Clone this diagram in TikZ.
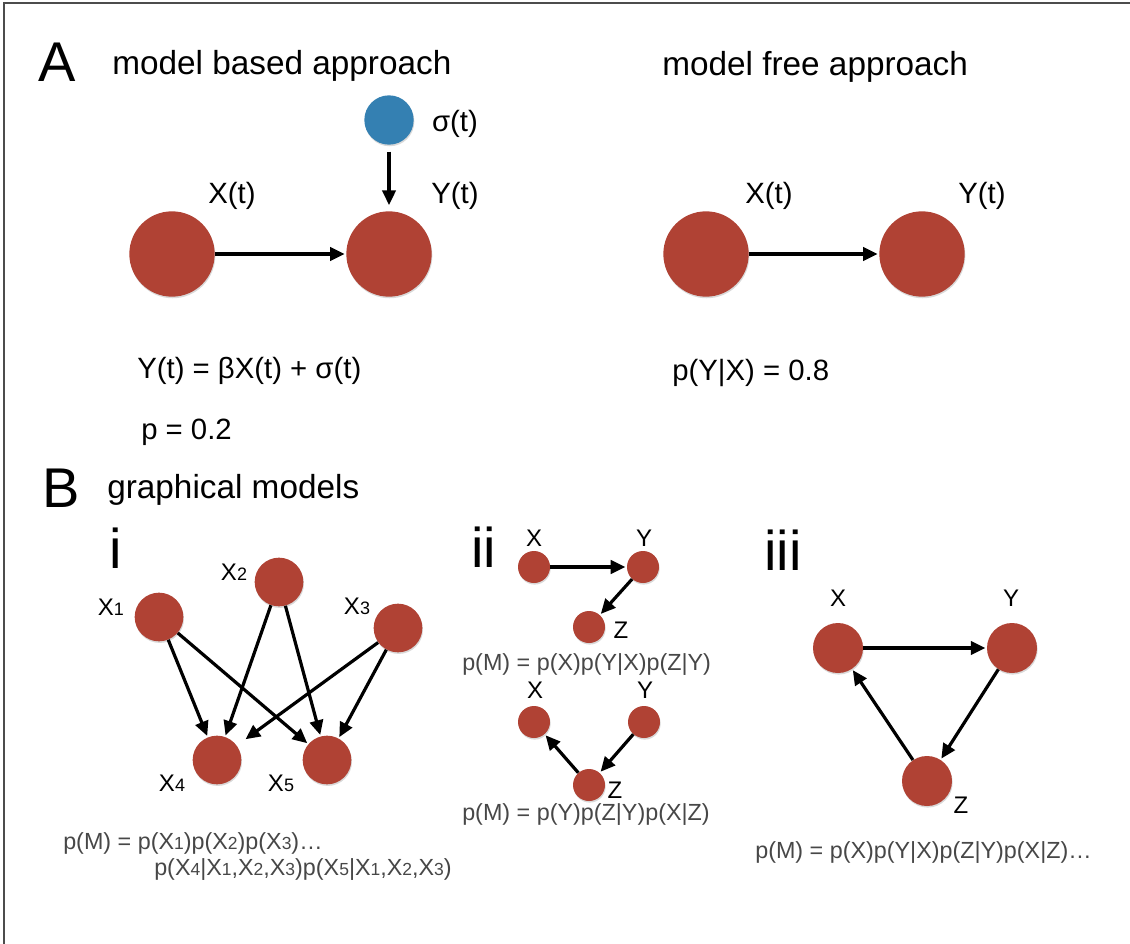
\documentclass[tikz,border=0pt]{standalone}
\usepackage{fontspec}
\setmainfont{Liberation Sans}
\usepackage{graphicx}
\usetikzlibrary{arrows.meta,shadows}

\definecolor{nodered}{RGB}{176,66,52}
\definecolor{nodeblue}{RGB}{52,128,178}
\definecolor{formulagray}{gray}{0.28}
\newcommand{\ix}[1]{\scalebox{0.75}{#1}}

\begin{document}
\begin{tikzpicture}[
x=0.75pt, y=-0.75pt,
var/.style={
    circle,
    fill=nodered,
    draw=none,
    inner sep=0pt,
    drop shadow={opacity=0.3, shadow xshift=0.5pt, shadow yshift=-1.2pt}
},
bigvar/.style={var, minimum size=64pt},
midvar/.style={var, minimum size=36.5pt},
smallvar/.style={var, minimum size=24pt},
noisevar/.style={var, fill=nodeblue, minimum size=37pt},
edge/.style={-{Triangle[length=11pt,width=10pt]}, line width=2.4pt, shorten >=1pt},
biglet/.style={font=\fontsize{42}{46}\selectfont, inner sep=0pt, anchor=base west},
heading/.style={font=\fontsize{25}{28}\selectfont, inner sep=0pt, anchor=base west},
lab/.style={font=\fontsize{22}{24}\selectfont, inner sep=0pt},
formula/.style={font=\fontsize{22}{24}\selectfont, inner sep=0pt, anchor=west},
sublab/.style={font=\fontsize{18}{20}\selectfont, inner sep=0pt},
model/.style={font=\fontsize{17.5}{20}\selectfont, text=formulagray, inner sep=0pt, anchor=west}
]
\useasboundingbox (0,0) rectangle (1130,944);
\draw[gray!60!black, line width=1.2pt] (4,944) -- (4,3) -- (1130,3);

%---------------- A: model based ----------------
\begin{scope}
\node[biglet] (lA) at (38,82) {A};
\node[heading] (hbased) at (112,75) {model based approach};

\node[bigvar] (bx) at (172,254) {};
\node[bigvar] (by) at (389,254) {};
\node[noisevar] (bs) at (389,120) {};

\node[lab] (lbx) at (232,196) {X(t)};
\node[lab] (lby) at (455,196) {Y(t)};
\node[lab] (lbs) at (455,124) {σ(t)};

\draw[edge] (bx) -- (by);
\draw[edge, shorten <=5pt, shorten >=4.5pt] (bs) -- (by);

\node[formula] (fbased) at (137,371) {Y(t) = βX(t) + σ(t)};
\node[formula] (pbased) at (141,432) {p = 0.2};
\end{scope}

%---------------- A: model free ----------------
\begin{scope}
\node[heading] (hfree) at (662,76) {model free approach};

\node[bigvar] (fx) at (706,254) {};
\node[bigvar] (fy) at (922,254) {};

\node[lab] (lfx) at (769,196) {X(t)};
\node[lab] (lfy) at (982,196) {Y(t)};

\draw[edge] (fx) -- (fy);

\node[formula] (ffree) at (672,373) {p(Y|X) = 0.8};
\end{scope}

%---------------- B: i ----------------
\begin{scope}
\node[biglet] (lB) at (42,507) {B};
\node[heading] (hgraph) at (107,498) {graphical models};
\node[biglet] (li) at (109,568) {i};

\node[midvar] (x1) at (159,617) {};
\node[midvar] (x2) at (279,582) {};
\node[midvar] (x3) at (398,628) {};
\node[midvar] (x4) at (217,760) {};
\node[midvar] (x5) at (327,760) {};

\node[sublab] (lx1) at (111,607) {X\ix{1}};
\node[sublab] (lx2) at (234,572) {X\ix{2}};
\node[sublab] (lx3) at (357,606) {X\ix{3}};
\node[sublab] (lx4) at (172,783) {X\ix{4}};
\node[sublab] (lx5) at (281,783) {X\ix{5}};

\draw[edge] (x1) -- (x4);
\draw[edge] (x1) -- (x5);
\draw[edge] (x2) -- (x4);
\draw[edge] (x2) -- (x5);
\draw[edge, shorten >=8pt] (x3) -- (x4);
\draw[edge] (x3) -- (x5);

\node[model] (mi1) at (63,843) {p(M) = p(X\ix{1})p(X\ix{2})p(X\ix{3})…};
\node[model] (mi2) at (154,870) {p(X\ix{4}|X\ix{1},X\ix{2},X\ix{3})p(X\ix{5}|X\ix{1},X\ix{2},X\ix{3})};
\end{scope}

%---------------- B: ii ----------------
\begin{scope}
\node[biglet] (lii) at (471,567) {ii};

\node[smallvar] (cx) at (534,567) {};
\node[smallvar] (cy) at (643,567) {};
\node[smallvar] (cz) at (589,627) {};
\node[sublab] (lcx) at (534,538) {X};
\node[sublab] (lcy) at (644,538) {Y};
\node[sublab] (lcz) at (621,630) {Z};

\draw[edge] (cx) -- (cy);
\draw[edge] (cy) -- (cz);

\node[model] (mchain) at (462,665) {p(M) = p(X)p(Y|X)p(Z|Y)};

\node[smallvar] (vx) at (534,722) {};
\node[smallvar] (vy) at (644,722) {};
\node[smallvar] (vz) at (589,785) {};
\node[sublab] (lvx) at (535,690) {X};
\node[sublab] (lvy) at (645,690) {Y};
\node[sublab] (lvz) at (615,790) {Z};

\draw[edge] (vz) -- (vx);
\draw[edge] (vy) -- (vz);

\node[model] (mvee) at (462,815) {p(M) = p(Y)p(Z|Y)p(X|Z)};
\end{scope}

%---------------- B: iii ----------------
\begin{scope}
\node[biglet] (liii) at (764,570) {iii};

\node[midvar, minimum size=37.5pt] (tx) at (838,648) {};
\node[midvar, minimum size=37.5pt] (ty) at (1012,648) {};
\node[midvar, minimum size=37.5pt] (tz) at (927,781) {};
\node[sublab] (ltx) at (838,598) {X};
\node[sublab] (lty) at (1011,598) {Y};
\node[sublab] (ltz) at (961,805) {Z};

\draw[edge] (tx) -- (ty);
\draw[edge] (ty) -- (tz);
\draw[edge] (tz) -- (tx);

\node[model] (mloop) at (755,853) {p(M) = p(X)p(Y|X)p(Z|Y)p(X|Z)…};
\end{scope}

\end{tikzpicture}
\end{document}
